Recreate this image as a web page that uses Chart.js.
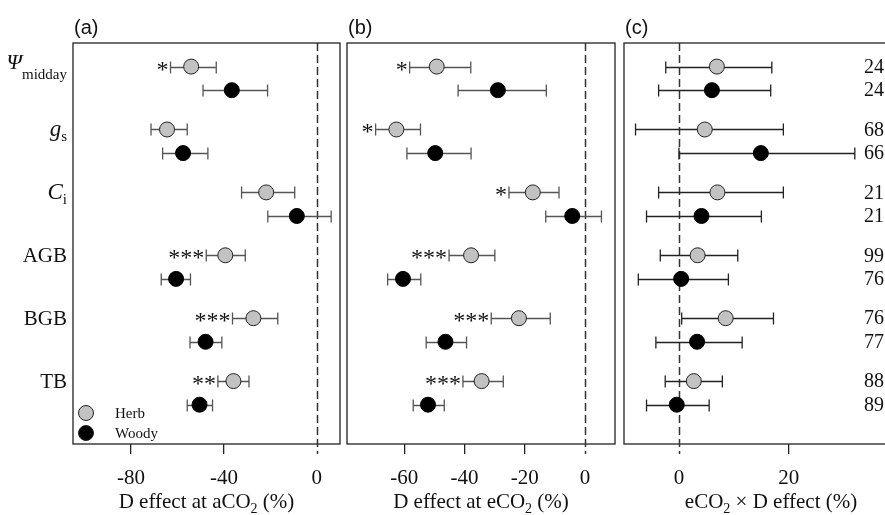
<!DOCTYPE html>
<html>
<head>
<meta charset="utf-8">
<script src="https://cdn.jsdelivr.net/npm/chart.js@4.4.1/dist/chart.umd.min.js"></script>
<style>
  html, body { margin: 0; padding: 0; background: #fff; overflow: hidden; }
  #wrap { position: relative; width: 885px; height: 515px; overflow: hidden; }
  canvas { position: absolute; left: 0; top: 0; }
</style>
</head>
<body>
<div id="wrap">
  <canvas id="chartA" width="885" height="515"></canvas>
  <canvas id="chartB" width="885" height="515"></canvas>
  <canvas id="chartC" width="930" height="515"></canvas>
</div>
<script>
// Response variables, top to bottom
const traitMain = ['Ψ', 'g', 'C', 'AGB', 'BGB', 'TB'];
const traitSub = ['midday', 's', 'i', '', '', ''];
const traitItalic = [true, true, true, false, false, false];

// (a) drought effect at ambient CO2 (%)
const aHerbMean = [-54.1, -64.5, -21.8, -39.4, -27.3, -35.9];
const aHerbLow = [-63.0, -71.4, -32.4, -47.6, -36.3, -42.6];
const aHerbHigh = [-43.3, -55.8, -9.5, -30.8, -16.8, -29.2];
const aWoodyMean = [-36.6, -57.6, -8.6, -60.6, -47.9, -50.5];
const aWoodyLow = [-49.0, -66.4, -21.1, -67.0, -54.6, -55.8];
const aWoodyHigh = [-21.2, -46.9, 6.2, -54.4, -40.9, -44.9];
const aSig = ['*', '', '', '***', '***', '**'];
const aTicks = [-80, -40, 0];

// (b) drought effect at elevated CO2 (%)
const bHerbMean = [-49.2, -62.6, -17.3, -37.8, -21.9, -34.3];
const bHerbLow = [-58.2, -69.5, -25.2, -45.1, -31.1, -40.5];
const bHerbHigh = [-37.9, -54.6, -8.6, -29.9, -11.5, -27.1];
const bWoodyMean = [-28.9, -49.7, -4.2, -60.4, -46.3, -52.1];
const bWoodyLow = [-42.1, -59.1, -13.0, -65.5, -52.7, -57.0];
const bWoodyHigh = [-12.8, -37.8, 5.5, -54.5, -39.3, -46.7];
const bSig = ['*', '*', '*', '***', '***', '***'];
const bTicks = [-60, -40, -20, 0];

// (c) eCO2 x drought interaction (%)
const cHerbMean = [6.9, 4.7, 7.0, 3.4, 8.5, 2.7];
const cHerbLow = [-2.4, -7.9, -3.7, -3.4, 0.5, -2.5];
const cHerbHigh = [16.9, 19.0, 19.0, 10.7, 17.2, 7.9];
const cWoodyMean = [6.0, 14.9, 4.1, 0.4, 3.3, -0.4];
const cWoodyLow = [-3.7, 0.0, -5.9, -7.4, -4.2, -5.9];
const cWoodyHigh = [16.7, 32.0, 15.0, 9.0, 11.5, 5.5];
const cHerbN = [24, 68, 21, 99, 76, 88];
const cWoodyN = [24, 66, 21, 76, 77, 89];
const cTicks = [0, 20, 40];

const SERIF = "'Liberation Serif', 'Times New Roman', serif";
const SANS = "'Liberation Sans', Arial, sans-serif";
const woodyOffset = 0.375;
const herbFill = '#c2c2c2';

// draw a run of text pieces (with subscript offsets) anchored at x
function drawPieces(ctx, pieces, x, y, align) {
  let total = 0;
  pieces.forEach(p => {
    ctx.font = p.font;
    p.w = ctx.measureText(p.text).width;
    total += p.w;
  });
  let cx = align === 'right' ? x - total : align === 'center' ? x - total / 2 : x;
  ctx.textAlign = 'left';
  ctx.textBaseline = 'alphabetic';
  pieces.forEach(p => {
    ctx.font = p.font;
    ctx.fillText(p.text, cx, y + (p.dy || 0));
    cx += p.w;
  });
}

function makePanel(id, p) {
  const canvas = document.getElementById(id);
  const herbPts = p.herbMean.map((v, i) => ({ x: v, y: i }));
  const woodyPts = p.woodyMean.map((v, i) => ({ x: v, y: i + woodyOffset }));

  const panelPlugin = {
    id: 'panel_' + id,
    beforeDatasetsDraw(chart) {
      const { ctx, chartArea: ca, scales: { x, y } } = chart;
      ctx.save();
      // frame
      ctx.strokeStyle = '#222';
      ctx.lineWidth = 1.3;
      ctx.strokeRect(ca.left, ca.top, ca.right - ca.left, ca.bottom - ca.top);
      // zero reference line, carried down through the tick
      const x0 = Math.round(x.getPixelForValue(0)) + 0.5;
      ctx.setLineDash([8, 4]);
      ctx.strokeStyle = '#333';
      ctx.lineWidth = 1.5;
      ctx.beginPath();
      ctx.moveTo(x0, ca.top);
      ctx.lineTo(x0, ca.bottom + 10);
      ctx.stroke();
      ctx.setLineDash([]);
      // error bars
      ctx.strokeStyle = p.barColor;
      ctx.lineWidth = 1.3;
      const bars = (lo, hi, off) => lo.forEach((l, i) => {
        const py = Math.round(y.getPixelForValue(i + off)) + 0.5;
        const xl = x.getPixelForValue(l);
        const xh = x.getPixelForValue(hi[i]);
        ctx.beginPath();
        ctx.moveTo(xl, py); ctx.lineTo(xh, py);
        ctx.moveTo(xl, py - 6); ctx.lineTo(xl, py + 6);
        ctx.moveTo(xh, py - 6); ctx.lineTo(xh, py + 6);
        ctx.stroke();
      });
      bars(p.herbLow, p.herbHigh, 0);
      bars(p.woodyLow, p.woodyHigh, woodyOffset);
      ctx.restore();
    },
    afterDatasetsDraw(chart) {
      const { ctx, chartArea: ca, scales: { x, y } } = chart;
      ctx.save();
      ctx.fillStyle = '#111';
      // significance stars left of the herb bars
      if (p.sig) {
        ctx.font = '24px ' + SERIF;
        ctx.textAlign = 'right';
        ctx.textBaseline = 'alphabetic';
        p.sig.forEach((s, i) => {
          if (!s) return;
          const xl = x.getPixelForValue(p.herbLow[i]) - 2;
          ctx.fillText(s, xl, y.getPixelForValue(i) + 10);
        });
      }
      // sample sizes on the right
      if (p.herbN) {
        ctx.font = '20px ' + SERIF;
        ctx.textAlign = 'left';
        ctx.textBaseline = 'middle';
        p.herbN.forEach((n, i) => {
          ctx.fillText(String(n), 864, y.getPixelForValue(i) + 1);
          ctx.fillText(String(p.woodyN[i]), 864, y.getPixelForValue(i + woodyOffset) + 1);
        });
      }
      // trait labels and legend on the first panel
      if (p.showTraits) {
        traitMain.forEach((t, i) => {
          const py = y.getPixelForValue(i);
          let pieces;
          if (i === 0) {
            pieces = [{ text: t, font: 'italic 22px ' + SERIF, dy: -5 },
                      { text: traitSub[i], font: '15px ' + SERIF, dy: 5 }];
          } else if (traitItalic[i]) {
            pieces = [{ text: t, font: 'italic 23px ' + SERIF },
                      { text: traitSub[i], font: '15px ' + SERIF, dy: 5 }];
          } else {
            pieces = [{ text: t, font: '21px ' + SERIF }];
          }
          drawPieces(ctx, pieces, 67, py + 7, 'right');
        });
        const lx = ca.left + 13;
        [['Herb', herbFill, ca.bottom - 31], ['Woody', '#000', ca.bottom - 11]].forEach(([lab, fill, ly]) => {
          ctx.beginPath();
          ctx.arc(lx, ly, 7.5, 0, Math.PI * 2);
          ctx.fillStyle = fill;
          ctx.fill();
          ctx.strokeStyle = '#222';
          ctx.lineWidth = 1;
          ctx.stroke();
          ctx.fillStyle = '#111';
          ctx.font = '15px ' + SERIF;
          ctx.textAlign = 'left';
          ctx.textBaseline = 'middle';
          ctx.fillText(lab, ca.left + 42, ly + 1);
        });
      }
      // panel letter
      ctx.fillStyle = '#111';
      ctx.font = '20px ' + SANS;
      ctx.textAlign = 'left';
      ctx.textBaseline = 'alphabetic';
      ctx.fillText(p.letter, ca.left + 1, 34);
      // axis title with subscript 2
      drawPieces(ctx, p.title, (ca.left + p.titleRight) / 2, 508, 'center');
      ctx.restore();
    }
  };

  return new Chart(canvas, {
    type: 'scatter',
    data: {
      datasets: [
        { label: 'Herb', data: herbPts, backgroundColor: herbFill, borderColor: '#222',
          borderWidth: 1, pointRadius: 7.5, pointHoverRadius: 7.5 },
        { label: 'Woody', data: woodyPts, backgroundColor: '#000', borderColor: '#000',
          borderWidth: 1, pointRadius: 7.5, pointHoverRadius: 7.5 }
      ]
    },
    options: {
      responsive: false,
      animation: false,
      layout: { padding: { left: p.left, right: canvas.width - p.right, top: 43, bottom: 0 } },
      plugins: { legend: { display: false }, tooltip: { enabled: false } },
      scales: {
        x: {
          type: 'linear',
          min: p.xMin,
          max: p.xMax,
          afterBuildTicks: axis => { axis.ticks = p.ticks.map(v => ({ value: v })); },
          afterFit: axis => { axis.height = 71; },
          grid: {
            drawOnChartArea: false,
            drawTicks: true,
            tickLength: 10,
            lineWidth: 1.3,
            color: c => (c.tick && c.tick.value === 0) ? 'rgba(0,0,0,0)' : '#222'
          },
          border: { display: false },
          ticks: {
            color: '#111',
            font: { family: SERIF, size: 21 },
            padding: 12,
            maxRotation: 0,
            autoSkip: false,
            callback: v => String(v)
          }
        },
        y: { type: 'linear', reverse: true, min: -woodyOffset, max: 6, display: false }
      }
    },
    plugins: [panelPlugin]
  });
}

const sub = (a, b, c) => [
  { text: a, font: '21px ' + SERIF },
  { text: b, font: '14px ' + SERIF, dy: 5 },
  { text: c, font: '21px ' + SERIF }
];

makePanel('chartA', {
  left: 73, right: 340, xMin: -105, xMax: 10, ticks: aTicks, letter: '(a)',
  herbMean: aHerbMean, herbLow: aHerbLow, herbHigh: aHerbHigh,
  woodyMean: aWoodyMean, woodyLow: aWoodyLow, woodyHigh: aWoodyHigh,
  sig: aSig, barColor: '#555', showTraits: true,
  title: sub('D effect at aCO', '2', ' (%)'), titleRight: 340
});

makePanel('chartB', {
  left: 347, right: 615, xMin: -79, xMax: 10, ticks: bTicks, letter: '(b)',
  herbMean: bHerbMean, herbLow: bHerbLow, herbHigh: bHerbHigh,
  woodyMean: bWoodyMean, woodyLow: bWoodyLow, woodyHigh: bWoodyHigh,
  sig: bSig, barColor: '#555',
  title: sub('D effect at eCO', '2', ' (%)'), titleRight: 615
});

makePanel('chartC', {
  left: 624, right: 918, xMin: -10, xMax: 43.5, ticks: cTicks, letter: '(c)',
  herbMean: cHerbMean, herbLow: cHerbLow, herbHigh: cHerbHigh,
  woodyMean: cWoodyMean, woodyLow: cWoodyLow, woodyHigh: cWoodyHigh,
  herbN: cHerbN, woodyN: cWoodyN, barColor: '#222',
  title: sub('eCO', '2', ' × D effect (%)'), titleRight: 918
});
</script>
</body>
</html>
